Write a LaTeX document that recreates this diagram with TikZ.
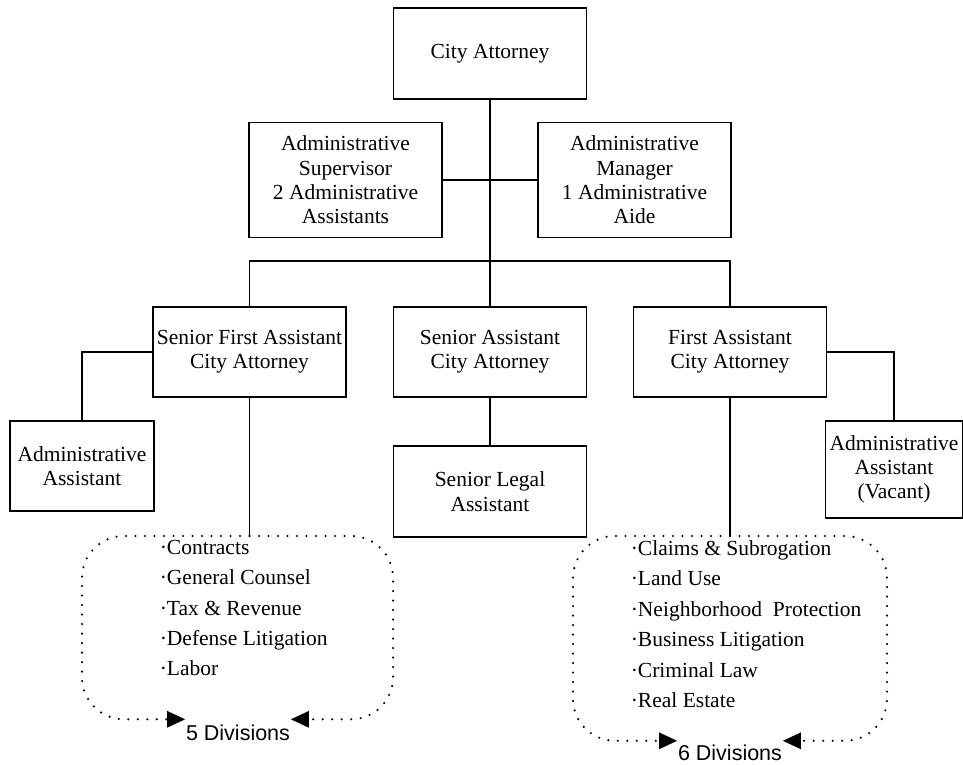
\documentclass[tikz,border=0pt]{standalone}
\usepackage{fontspec}
\setmainfont{Liberation Serif}
\newfontfamily\arialfont{Liberation Sans}
\usetikzlibrary{arrows.meta}

\begin{document}
\begin{tikzpicture}[x=1pt,y=-1pt,line width=1.6pt,font=\fontsize{21.5}{24.3}\selectfont]
\tikzstyle{post}=[draw,rectangle,align=center,inner sep=0pt,minimum width=193pt,minimum height=91pt]
\tikzstyle{item}=[anchor=west,inner sep=0pt,text height=0.7em,text depth=0.2em]
\tikzstyle{divline}=[line width=2.4pt,line cap=round,dash pattern=on 0pt off 9.5pt,rounded corners=42pt,-{Triangle[length=18pt,width=16pt]}]
\tikzstyle{divlabel}=[font=\arialfont\fontsize{21.5}{24}\selectfont,inner sep=0pt]
\useasboundingbox (0,0) rectangle (963,765);

% top of the office
\node[post] (ca) at (490,53.5) {City Attorney};
\node[post,minimum height=115pt] (sup) at (345.5,180) {Administrative\\Supervisor\\2 Administrative\\Assistants};
\node[post,minimum height=115pt] (mgr) at (634.5,180) {Administrative\\Manager\\1 Administrative\\Aide};

% assistant city attorneys
\node[post,minimum height=90pt] (sfa) at (249.5,352) {Senior First Assistant\\City Attorney};
\node[post,minimum height=90pt] (saca) at (490,352) {Senior Assistant\\City Attorney};
\node[post,minimum height=90pt] (faca) at (730,352) {First Assistant\\City Attorney};

\node[post,minimum width=144pt,minimum height=90pt] (aa) at (82,466) {Administrative\\Assistant};
\node[post,minimum height=91pt] (sla) at (490,491.5) {Senior Legal\\Assistant};
\node[post,minimum width=137pt,minimum height=97pt] (aav) at (894,469.5) {Administrative\\Assistant\\(Vacant)};

\coordinate (bar) at (490,261);
\coordinate (lt) at (249.5,536);
\coordinate (rt) at (730,536);

\draw (ca) -- (saca);
\draw (sup) -- (mgr);
\draw (sfa.north) |- (bar) -| (faca.north);
\draw (sfa.west) -| (aa.north);
\draw (faca.east) -| (aav.north);
\draw (saca) -- (sla);
\draw (sfa.south) -- (lt);
\draw (faca.south) -- (rt);

% divisions
\foreach \t [count=\i] in {Contracts,General Counsel,Tax \& Revenue,Defense Litigation,Labor}
  \node[item] (l\i) at (159,{521.75+30.25*\i}) {·\t};
\foreach \t [count=\i] in {Claims \& Subrogation,Land Use,Neighborhood\ \ Protection,Business Litigation,Criminal Law,Real Estate}
  \node[item] (r\i) at (630,{522.5+30.4*\i}) {·\t};

\node[divlabel] (d5) at (238,733) {5 Divisions};
\node[divlabel] (d6) at (730,753) {6 Divisions};

\draw[divline] (lt) -- (82,536) |- ([yshift=5pt]d5.north west);
\draw[divline] (lt) -- (393,536) |- ([yshift=5pt]d5.north east);
\draw[divline] (rt) -- (573,536) |- ([yshift=3.5pt]d6.north west);
\draw[divline] (rt) -- (887,536) |- ([yshift=3.5pt]d6.north east);
\end{tikzpicture}
\end{document}
